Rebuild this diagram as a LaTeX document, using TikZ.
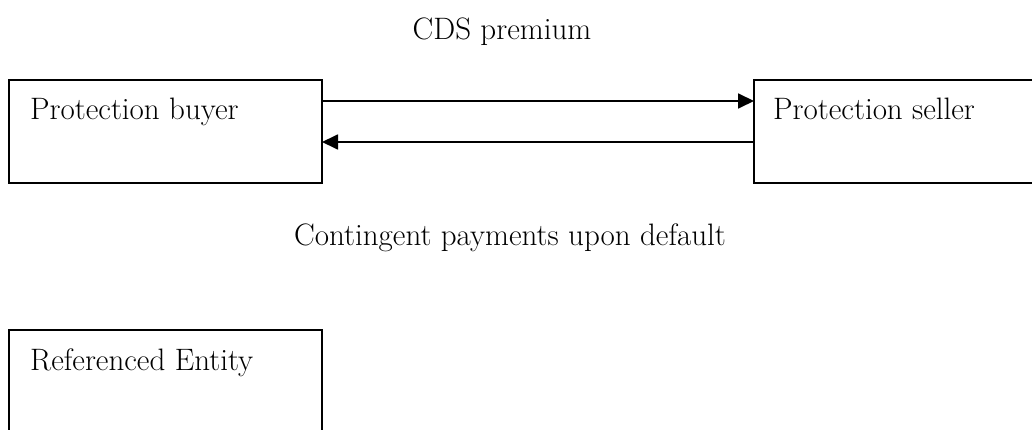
\documentclass[tikz,border=0pt]{standalone}
\usetikzlibrary{arrows.meta}
\tikzset{
  ent/.style={draw, line width=1.6pt, inner sep=0pt},
  lbl/.style={font=\fontsize{31}{36}\selectfont, inner sep=0pt, anchor=base west},
  clbl/.style={font=\fontsize{31}{36}\selectfont, inner sep=0pt, anchor=base},
  flow/.style={line width=1.8pt, -{Triangle[length=16pt,width=15pt]}}
}
\begin{document}
\begin{tikzpicture}[x=1pt,y=-1pt]
\useasboundingbox (0,0) rectangle (1032,430);
\clip (0,0) rectangle (1032,430);
% boxes
\draw[ent] (9,80) rectangle (322,183);
\draw[ent] (754,80) rectangle (1045,183);
\draw[ent] (9,330) rectangle (322,445);
\coordinate (bTop) at (322,101);
\coordinate (sTop) at (754,101);
\coordinate (bBot) at (322,142);
\coordinate (sBot) at (754,142);
\node[lbl] (buyer) at (30,120) {Protection buyer};
\node[lbl] (seller) at (773,120) {Protection seller};
\node[lbl] (ref) at (30,370) {Referenced Entity};
\node[clbl] (prem) at (502,40) {CDS premium};
\node[clbl] (cont) at (510,245) {Contingent payments upon default};
\draw[flow] (bTop) -- (sTop);
\draw[flow] (sBot) -- (bBot);
\end{tikzpicture}
\end{document}
